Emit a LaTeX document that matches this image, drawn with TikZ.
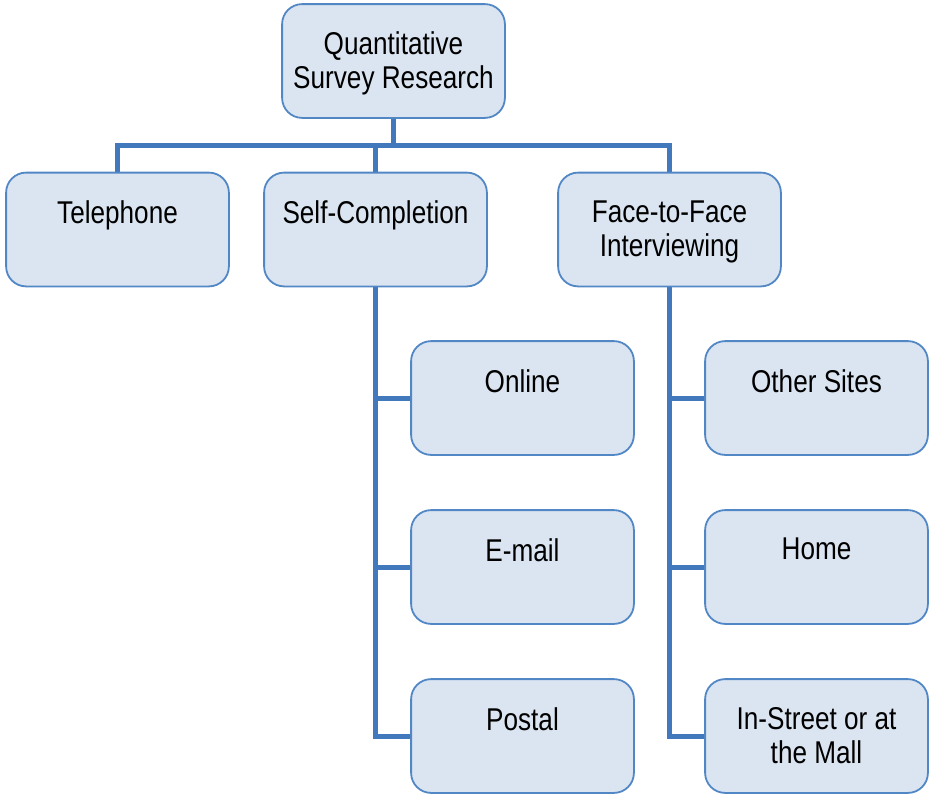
\documentclass[tikz,border=0pt]{standalone}
\usepackage{fontspec}
\setmainfont{Liberation Sans}[FakeStretch=0.83]
\begin{document}
\begin{tikzpicture}[x=1pt,y=-1pt,
  box/.style={draw=boxline, line width=1.8pt, fill=boxfill, rounded corners=20pt,
    minimum width=221pt, minimum height=112pt, inner sep=0pt},
  lbl/.style={anchor=north, inner sep=0pt, align=center, text=black,
    font=\fontsize{31.5}{34}\selectfont},
  link/.style={draw=linkblue, line width=5pt}]
\definecolor{boxfill}{HTML}{DBE5F1}
\definecolor{boxline}{HTML}{5287C6}
\definecolor{linkblue}{HTML}{4279BD}
\useasboundingbox (0,0) rectangle (933,793);

% bus coordinates
\coordinate (bus) at (393.5,145);
\coordinate (busL) at (117.5,145);
\coordinate (busM) at (375.5,145);
\coordinate (busR) at (669.5,145);

% boxes (placed first so connectors can refer to them)
\node[box] (root) at (393.5,61) {};
\node[box] (tel)  at (117.5,229.5) {};
\node[box] (self) at (375.5,229.5) {};
\node[box] (f2f)  at (669.5,229.5) {};
\node[box] (online) at (522.5,398) {};
\node[box] (email)  at (522.5,567) {};
\node[box] (postal) at (522.5,736) {};
\node[box] (other)  at (816.5,398) {};
\node[box] (home)   at (816.5,567) {};
\node[box] (street) at (816.5,736) {};

% connectors
\draw[link] (root.south) -- (bus);
\draw[link, line cap=rect] (busL) -- (busR);
\draw[link] (busL) -- (tel.north);
\draw[link] (busM) -- (self.north);
\draw[link] (busR) -- (f2f.north);
\draw[link, line join=miter] (self.south) |- (postal.west);
\draw[link] (self.south |- online.west) -- (online.west);
\draw[link] (self.south |- email.west) -- (email.west);
\draw[link, line join=miter] (f2f.south) |- (street.west);
\draw[link] (f2f.south |- other.west) -- (other.west);
\draw[link] (f2f.south |- home.west) -- (home.west);

% redraw boxes over connector ends
\foreach \b in {root,tel,self,f2f,online,email,postal,other,home,street}{
  \draw[draw=boxline, line width=1.8pt, fill=boxfill, rounded corners=20pt]
    (\b.north west) rectangle (\b.south east);
}

% labels
\node[lbl] (troot) at ([yshift=-27pt]root.north) {Quantitative\\Survey Research};
\node[lbl] (ttel) at ([yshift=-28pt]tel.north) {Telephone};
\node[lbl] (tself) at ([yshift=-28pt]self.north) {Self-Completion};
\node[lbl] (tf2f) at ([yshift=-28pt]f2f.north) {Face-to-Face\\Interviewing};
\node[lbl] (tonline) at ([yshift=-28pt]online.north) {Online};
\node[lbl] (temail) at ([yshift=-28pt]email.north) {E-mail};
\node[lbl] (tpostal) at ([yshift=-28pt]postal.north) {Postal};
\node[lbl] (tother) at ([yshift=-28pt]other.north) {Other Sites};
\node[lbl] (thome) at ([yshift=-28pt]home.north) {Home};
\node[lbl] (tstreet) at ([yshift=-28pt]street.north) {In-Street or at\\the Mall};
\end{tikzpicture}
\end{document}
